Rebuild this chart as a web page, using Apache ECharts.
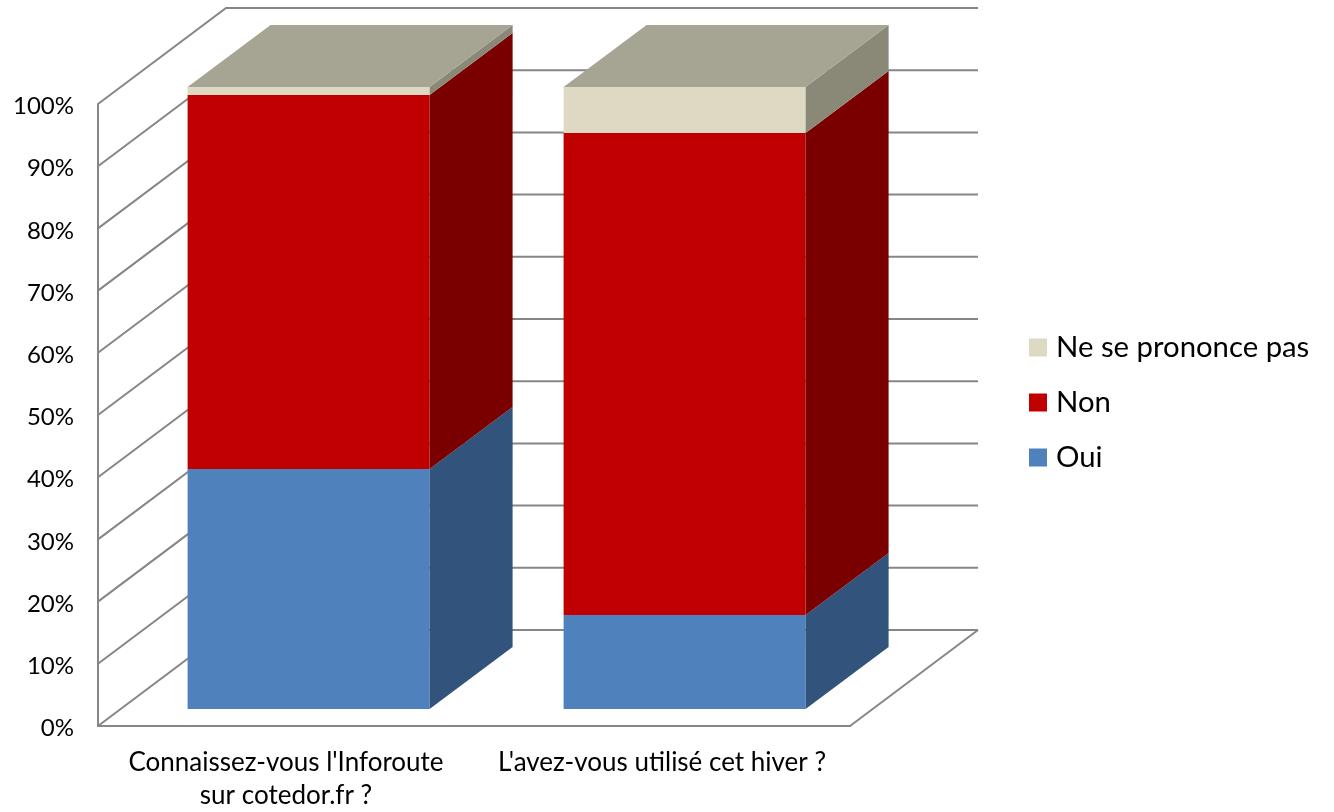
<!DOCTYPE html>
<html>
<head>
<meta charset="utf-8">
<style>html,body{margin:0;padding:0;background:#fff}#c{width:1334px;height:812px}</style>
<script src="https://cdn.jsdelivr.net/npm/echarts@6/dist/echarts.min.js"></script>
</head>
<body>
<div id="c"></div>
<script>
const categories = ["Connaissez-vous l'Inforoute\nsur cotedor.fr ?", "L'avez-vous utilisé cet hiver ?"];
const oui = [38.6, 15.1];
const non = [60.1, 77.5];
const nsp = [1.3, 7.4];
const tickValues = [0, 10, 20, 30, 40, 50, 60, 70, 80, 90, 100];

const FONT = 'Lato, "Open Sans", sans-serif';
const LINE = '#868686';
const WALL_DX = 128, WALL_DY = -96;      // depth of the whole 3D box
const BAR_DX = 22.6, BAR_DY = -17;       // bar offset from the front edge
const DEPTH_DX = 83, DEPTH_DY = -62;     // depth of a bar
const BAR_RATIO = 0.6436;

function wallItem(params, api) {
  const v = api.value(0);
  const p = api.coord([0, v]);
  const x0 = params.coordSys.x, x1 = x0 + params.coordSys.width;
  const children = [{
    type: 'polyline',
    shape: { points: [[x0, p[1]], [x0 + WALL_DX, p[1] + WALL_DY], [x1 + WALL_DX, p[1] + WALL_DY]] },
    style: { stroke: LINE, lineWidth: 2, fill: null }
  }];
  if (v === 0) {
    children.push({
      type: 'polyline',
      shape: { points: [[x1, p[1]], [x1 + WALL_DX, p[1] + WALL_DY]] },
      style: { stroke: LINE, lineWidth: 2, fill: null }
    });
  }
  return { type: 'group', children };
}

function segment(front, side, top) {
  return function (params, api) {
    const cat = api.value(0), lo = api.value(1), hi = api.value(2);
    const a = api.coord([cat, lo]), b = api.coord([cat, hi]);
    const w = api.size([1, 0])[0] * BAR_RATIO;
    const xl = a[0] - w / 2 + BAR_DX, xr = a[0] + w / 2 + BAR_DX;
    const yb = a[1] + BAR_DY, yt = b[1] + BAR_DY;
    const children = [
      { type: 'polygon', shape: { points: [[xl, yb], [xr, yb], [xr, yt], [xl, yt]] }, style: { fill: front } },
      { type: 'polygon', shape: { points: [[xr, yb], [xr + DEPTH_DX, yb + DEPTH_DY], [xr + DEPTH_DX, yt + DEPTH_DY], [xr, yt]] }, style: { fill: side } }
    ];
    if (top) {
      children.push({ type: 'polygon', shape: { points: [[xl, yt], [xr, yt], [xr + DEPTH_DX, yt + DEPTH_DY], [xl + DEPTH_DX, yt + DEPTH_DY]] }, style: { fill: top } });
    }
    return { type: 'group', children };
  };
}

function stacked(values, below) {
  return values.map((v, i) => {
    const lo = below.reduce((s, arr) => s + arr[i], 0);
    return [i, lo, lo + v];
  });
}

const chart = echarts.init(document.getElementById('c'), null, { renderer: 'canvas' });
chart.setOption({
  animation: false,
  backgroundColor: '#fff',
  textStyle: { fontFamily: FONT },
  grid: { left: 98, top: 104, width: 752, height: 622, outerBoundsMode: 'none' },
  legend: {
    orient: 'vertical', left: 1029, top: 333, padding: 0,
    itemWidth: 18, itemHeight: 18, itemGap: 26,
    icon: 'rect',
    data: ['Ne se prononce pas', 'Non', 'Oui'],
    selectedMode: false,
    textStyle: { fontFamily: FONT, fontSize: 29.3, lineHeight: 29, color: '#000', padding: [0, 0, 0, 4] }
  },
  xAxis: {
    type: 'category', data: categories,
    axisTick: { show: false },
    axisLine: { lineStyle: { color: LINE, width: 2 } },
    axisLabel: { fontFamily: FONT, fontSize: 26, color: '#000', margin: 20, lineHeight: 33, interval: 0 }
  },
  yAxis: {
    type: 'value', min: 0, max: 100, interval: 10,
    splitLine: { show: false },
    axisTick: { show: false },
    axisLine: { show: true, lineStyle: { color: LINE, width: 2 } },
    axisLabel: {
      fontFamily: FONT, fontSize: 24, color: '#000', margin: 24,
      formatter: '{v|{value}%}',
      rich: { v: { fontFamily: FONT, fontSize: 24, color: '#000', padding: [5, 0, 0, 0] } }
    }
  },
  series: [
    { type: 'custom', name: 'walls', silent: true, clip: false, z: 1,
      encode: { y: 0 }, data: tickValues.map(v => [v]), renderItem: wallItem },
    { type: 'custom', name: 'Oui', clip: false, z: 2, itemStyle: { color: '#4F81BD' },
      encode: { x: 0, y: [1, 2] }, data: stacked(oui, []), renderItem: segment('#4F81BD', '#32547C') },
    { type: 'custom', name: 'Non', clip: false, z: 3, itemStyle: { color: '#C00000' },
      encode: { x: 0, y: [1, 2] }, data: stacked(non, [oui]), renderItem: segment('#C00000', '#7A0000') },
    { type: 'custom', name: 'Ne se prononce pas', clip: false, z: 4, itemStyle: { color: '#DDD9C3' },
      encode: { x: 0, y: [1, 2] }, data: stacked(nsp, [oui, non]), renderItem: segment('#DDD9C3', '#8A8877', '#A6A492') }
  ]
});
</script>
</body>
</html>
